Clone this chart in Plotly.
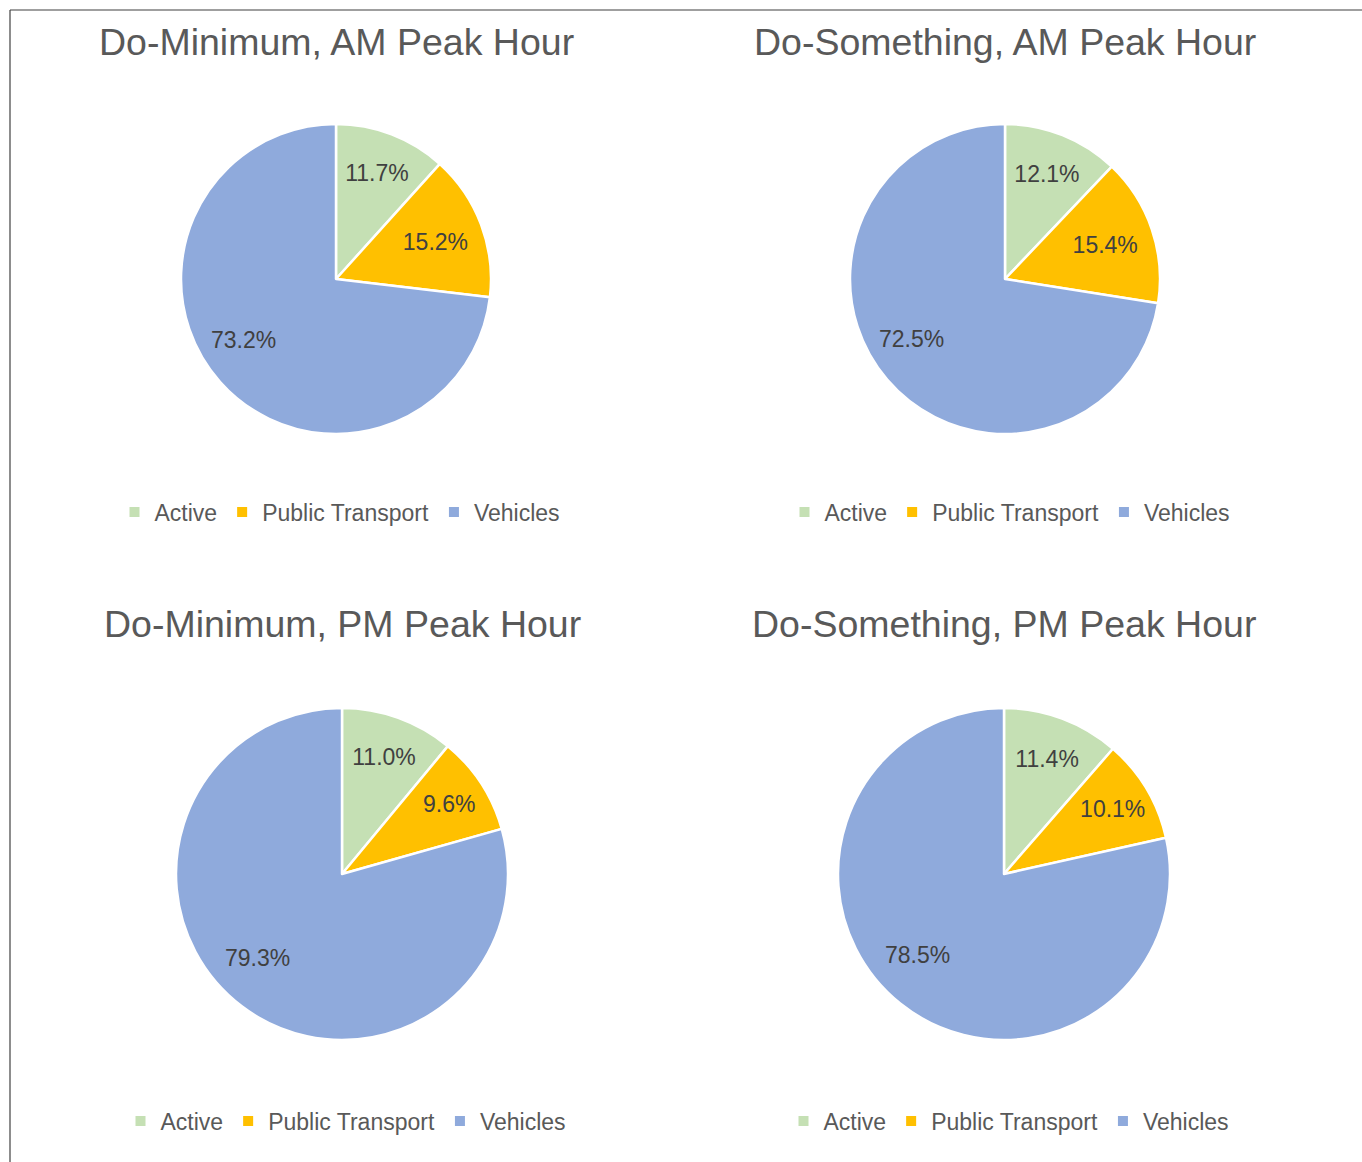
import math
import plotly.graph_objects as go

categories = ["Active", "Public Transport", "Vehicles"]
colors = ["#C5E0B4", "#FFC000", "#8FAADC"]

titles = [
    "Do-Minimum, AM Peak Hour",
    "Do-Something, AM Peak Hour",
    "Do-Minimum, PM Peak Hour",
    "Do-Something, PM Peak Hour",
]
dm_am = [11.7, 15.2, 73.2]
ds_am = [12.1, 15.4, 72.5]
dm_pm = [11.0, 9.6, 79.3]
ds_pm = [11.4, 10.1, 78.5]
series = [dm_am, ds_am, dm_pm, ds_pm]

W, H = 1362, 1162
FONT = "Liberation Sans, Arial"
# pixel layout: (center x, center y, radius, title y, legend x, legend y)
panels = [
    (336, 279, 155, 42, 340, 512),
    (1005, 279, 155, 42, 1010, 512),
    (342, 874, 166, 624, 346, 1121),
    (1004, 874, 166, 624, 1009, 1121),
]

fig = go.Figure()
annotations = []
legends = {}
for i, (vals, title, (cx, cy, r, ty, lx, ly)) in enumerate(zip(series, titles, panels)):
    lname = "legend" if i == 0 else f"legend{i+1}"
    # invisible suffix keeps each pie's legend entries separate
    labels = [c + "\u200b" * i for c in categories]
    fig.add_trace(go.Pie(
        labels=labels,
        values=vals,
        sort=False,
        direction="clockwise",
        rotation=0,
        marker=dict(colors=colors, line=dict(color="white", width=2.5)),
        texttemplate="%{value:.1f}%",
        textposition=["inside", "inside", "none"],
        insidetextorientation="horizontal",
        insidetextfont=dict(family=FONT, size=23, color="#404040"),
        hoverinfo="label+value",
        domain=dict(x=[(cx - r) / W, (cx + r) / W], y=[1 - (cy + r) / H, 1 - (cy - r) / H]),
        legend=lname,
        showlegend=True,
    ))
    # label for the large slice, placed further out (as in the original)
    total = sum(vals)
    start = sum(vals[:2]) / total
    mid = (start + vals[2] / total / 2) * 360 + 8
    rr = 0.715 * r
    px = cx + rr * math.sin(math.radians(mid))
    py = cy - rr * math.cos(math.radians(mid))
    annotations.append(dict(
        text=f"{vals[2]:.1f}%", x=px / W, y=1 - py / H, xref="paper", yref="paper",
        xanchor="center", yanchor="middle", showarrow=False,
        font=dict(family=FONT, size=23, color="#404040"),
    ))
    annotations.append(dict(
        text=title, x=cx / W, y=1 - ty / H, xref="paper", yref="paper",
        xanchor="center", yanchor="middle", showarrow=False,
        font=dict(family=FONT, size=37.5, color="#595959"),
    ))
    legends[lname] = dict(
        orientation="h", x=lx / W, y=1 - ly / H, xanchor="center", yanchor="middle",
        font=dict(family=FONT, size=23, color="#595959"),
        bgcolor="rgba(0,0,0,0)", itemsizing="constant",
    )

fig.update_layout(
    width=W, height=H,
    margin=dict(l=0, r=0, t=0, b=0),
    paper_bgcolor="white",
    plot_bgcolor="white",
    annotations=annotations,
    shapes=[
        dict(type="line", xref="paper", yref="paper", x0=10 / W, x1=1, y0=1 - 10 / H, y1=1 - 10 / H,
             line=dict(color="#404040", width=1.2)),
        dict(type="line", xref="paper", yref="paper", x0=10 / W, x1=10 / W, y0=0, y1=1 - 10 / H,
             line=dict(color="#404040", width=1.2)),
    ],
    **legends,
)

fig.write_html("out.html")
